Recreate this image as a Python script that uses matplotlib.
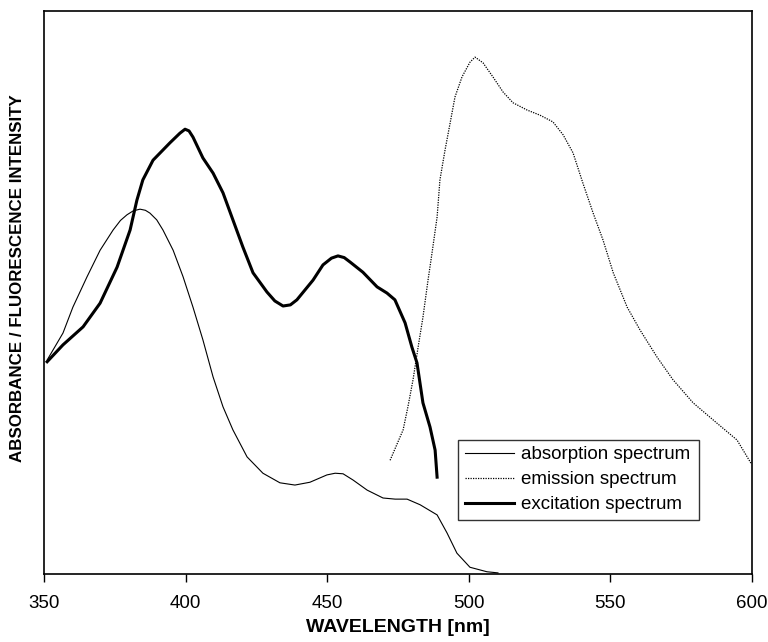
import matplotlib

matplotlib.use("Agg")
import matplotlib.pyplot as plt

plt.rcParams["font.family"] = ["Liberation Sans", "DejaVu Sans"]

# wavelength [nm] / relative intensity (0-100)
abs_nm = [351.1, 356.7, 360.2, 365.2, 369.8, 374.4, 377.0, 379.3, 381.5, 383.9,
          385.8, 387.4, 389.8, 392.0, 395.6, 399.1, 402.6, 406.1, 409.7, 413.2,
          416.7, 421.7, 427.3, 433.3, 438.6, 443.9, 449.9, 452.8, 455.6, 459.1,
          464.1, 469.7, 474.0, 478.2, 482.8, 488.8, 492.3, 495.8, 500.4, 506.4,
          510.3]
abs_val = [38.0, 42.8, 47.4, 52.8, 57.5, 61.1, 62.8, 63.8, 64.5, 64.8,
           64.6, 64.1, 62.9, 61.1, 57.5, 52.8, 47.4, 41.6, 35.0, 29.7,
           25.6, 20.8, 17.9, 16.2, 15.8, 16.3, 17.6, 17.9, 17.8, 16.7,
           14.9, 13.5, 13.3, 13.3, 12.3, 10.5, 7.3, 3.7, 1.2, 0.4,
           0.2]

em_nm = [472.2, 476.8, 478.5, 480.3, 482.1, 483.8, 485.6, 487.0, 488.8, 489.8,
         491.6, 493.4, 495.1, 497.6, 500.4, 502.2, 505.0, 508.5, 512.1, 515.6,
         520.6, 525.1, 529.7, 533.3, 536.8, 540.3, 543.9, 547.4, 551.0, 555.9,
         560.5, 566.5, 572.1, 579.2, 587.6, 594.7, 599.6]
em_val = [20.2, 25.6, 29.7, 34.5, 40.3, 45.6, 52.2, 57.0, 63.4, 70.0,
          75.3, 80.1, 84.7, 88.3, 90.9, 91.8, 90.8, 88.3, 85.6, 83.7,
          82.4, 81.5, 80.3, 78.0, 74.8, 69.4, 64.1, 59.3, 53.5, 47.4,
          43.3, 38.5, 34.5, 30.4, 26.8, 23.8, 19.7]

ex_nm = [351.1, 356.7, 363.8, 369.8, 375.8, 380.4, 382.8, 384.9, 388.5, 394.5,
         398.0, 399.8, 401.2, 402.6, 406.1, 409.7, 413.2, 416.7, 420.2, 423.8,
         428.7, 431.5, 434.4, 437.0, 439.3, 445.0, 448.5, 451.5, 453.8, 456.0,
         458.1, 462.6, 467.6, 471.1, 473.9, 477.5, 479.9, 481.7, 483.8, 486.3,
         488.1, 488.8]
ex_val = [37.7, 40.7, 43.9, 48.1, 54.5, 61.1, 66.4, 70.0, 73.5, 76.6,
          78.3, 79.0, 78.7, 77.6, 73.9, 71.2, 67.7, 62.9, 58.1, 53.5,
          50.1, 48.5, 47.6, 47.8, 48.7, 52.2, 54.9, 56.1, 56.5, 56.2,
          55.4, 53.6, 51.0, 49.9, 48.7, 44.6, 40.3, 37.5, 30.4, 26.1,
          22.0, 17.2]

x_ticks = [350, 400, 450, 500, 550, 600]

fig = plt.figure(figsize=(7.68, 6.42), dpi=100)
ax = fig.add_axes([0.0573, 0.1059, 0.9219, 0.877])

ax.plot(abs_nm, abs_val, color="black", lw=0.8, label="absorption spectrum")
ax.plot(em_nm, em_val, color="black", lw=0.9, linestyle=(0, (1, 1)), label="emission spectrum")
ax.plot(ex_nm, ex_val, color="black", lw=2.2, label="excitation spectrum")

ax.set_xlim(350, 600)
ax.set_ylim(0, 100)
ax.set_xticks(x_ticks)
ax.set_yticks([])
ax.tick_params(axis="x", direction="out", length=6, width=1, labelsize=13.5, pad=9)
for s in ax.spines.values():
    s.set_linewidth(1.2)
    s.set_color("black")

ax.set_xlabel("WAVELENGTH [nm]", fontsize=14, fontweight="bold", labelpad=5)
ax.set_ylabel("ABSORBANCE / FLUORESCENCE INTENSITY", fontsize=12.2, fontweight="bold")
ax.yaxis.set_label_coords(-0.027, 0.526)

leg = ax.legend(loc="lower left", bbox_to_anchor=(0.585, 0.096, 0.34, 0.149), mode="expand",
                fontsize=13.5, frameon=True, fancybox=False, handlelength=2.6,
                handletextpad=0.4, borderpad=0.35, labelspacing=0.42, borderaxespad=0)
leg.get_frame().set_edgecolor("black")
leg.get_frame().set_linewidth(1.0)

fig.savefig("out.png", dpi=100)
